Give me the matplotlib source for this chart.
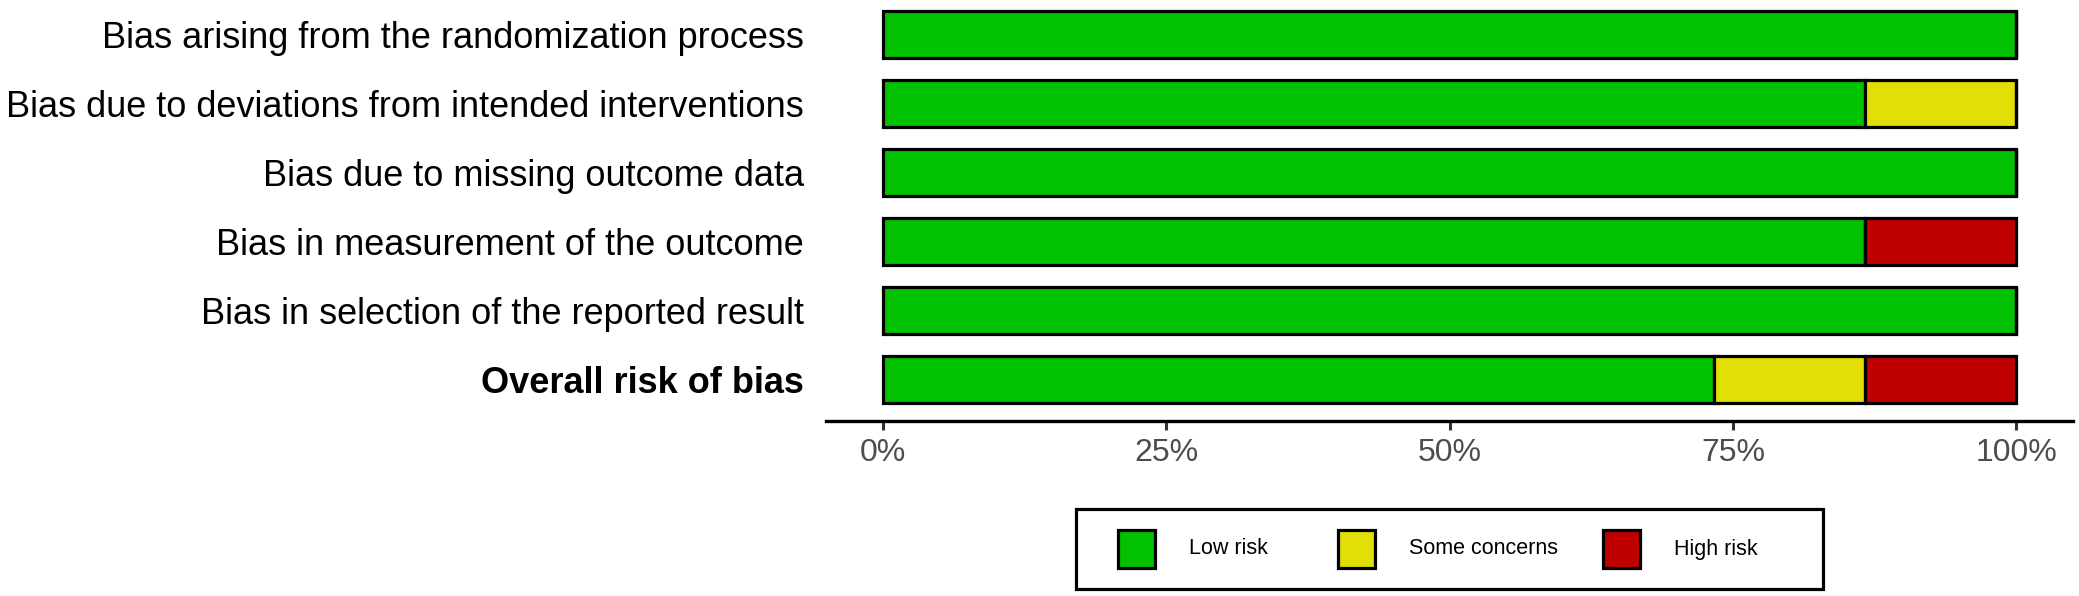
import matplotlib.pyplot as plt
from matplotlib.patches import Rectangle

plt.rcParams['font.family'] = ['Liberation Sans', 'DejaVu Sans']

domains = [
    "Bias arising from the randomization process",
    "Bias due to deviations from intended interventions",
    "Bias due to missing outcome data",
    "Bias in measurement of the outcome",
    "Bias in selection of the reported result",
    "Overall risk of bias",
]
# number of studies (15 total) per judgement
low_risk = [15, 13, 15, 13, 15, 11]
some_concerns = [0, 2, 0, 0, 0, 2]
high_risk = [0, 0, 0, 2, 0, 2]
n_studies = 15

judgements = ["Low risk", "Some concerns", "High risk"]
colors = ["#02C100", "#E2DF07", "#BF0000"]

W, H = 2079, 596
fig = plt.figure(figsize=(W / 100, H / 100), dpi=100)
ax = fig.add_axes([826 / W, 1 - 421 / H, (2073 - 826) / W, 421 / H])

ypos = list(range(len(domains)))
left = [0.0] * len(domains)
for vals, col in zip([low_risk, some_concerns, high_risk], colors):
    pct = [v / n_studies * 100 for v in vals]
    ax.barh(ypos, pct, left=left, height=0.68, color=col,
            edgecolor="black", linewidth=2.3)
    left = [l + p for l, p in zip(left, pct)]

ax.set_xlim(-5, 105)
ax.set_ylim(5.6, -0.5)
ax.set_yticks(ypos)
ax.set_yticklabels(domains, fontsize=26)
ax.get_yticklabels()[-1].set_fontweight("bold")
ax.tick_params(axis="y", length=0, pad=16)
ax.set_xticks([0, 25, 50, 75, 100])
ax.set_xticklabels(["0%", "25%", "50%", "75%", "100%"], fontsize=23, color="#4D4D4D")
ax.tick_params(axis="x", length=6.5, width=2.2, color="#333333", pad=6)

for s in ["top", "right", "left"]:
    ax.spines[s].set_visible(False)
ax.spines["bottom"].set_linewidth(2.4)

# legend box drawn in figure pixels
def px(x, y):
    return x / W, 1 - y / H

fig.add_artist(Rectangle(px(1076, 589), (1823 - 1076) / W, (589 - 509) / H,
                         transform=fig.transFigure, facecolor="white",
                         edgecolor="black", linewidth=2.3))
key_left = [1118, 1338, 1603]
for name, col, kx in zip(judgements, colors, key_left):
    fig.add_artist(Rectangle(px(kx, 568), 37 / W, 38 / H, transform=fig.transFigure,
                             facecolor=col, edgecolor="black", linewidth=2.3))
    tx, ty = px(kx + 71, 549)
    fig.text(tx, ty, name, fontsize=15.5, va="center", ha="left")

plt.savefig("out.png", dpi=100)
